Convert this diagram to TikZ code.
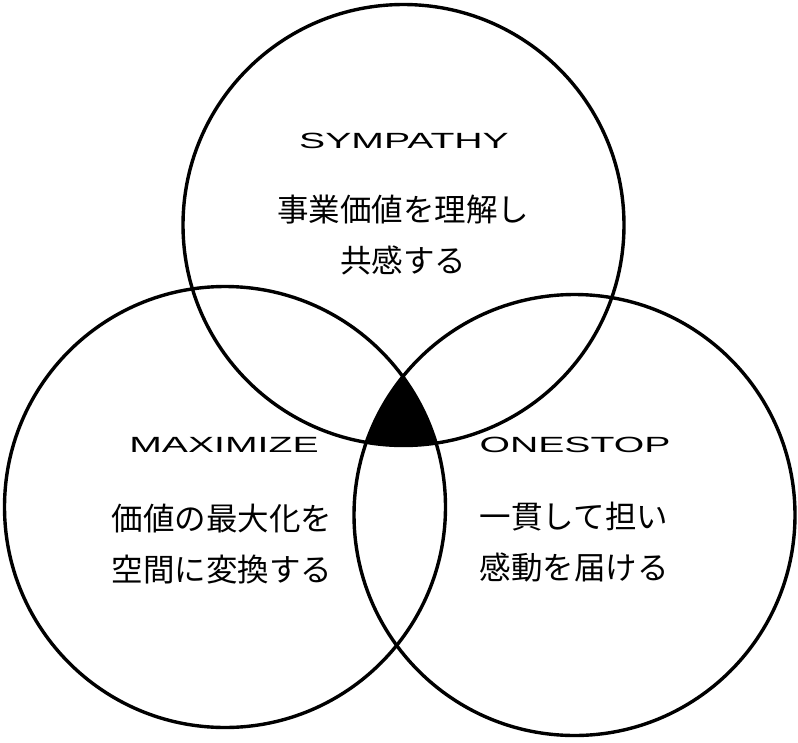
\documentclass[tikz,border=0pt]{standalone}
\usepackage{fontspec}
\newfontfamily\cjk{Noto Sans CJK JP}
\newfontfamily\lat{Liberation Sans}
\tikzset{
  ring/.style={circle, draw=black, line width=3.4pt, inner sep=0pt, minimum size=441pt},
  head/.style={font=\lat\fontsize{22}{22}\selectfont, inner sep=0pt},
  body/.style={font=\cjk\fontsize{31.5}{51}\selectfont, align=center, inner sep=0pt}
}
\newcommand{\widetxt}[1]{\scalebox{1.78}[1]{#1}}
\begin{document}
\begin{tikzpicture}[x=1pt,y=-1pt]
\useasboundingbox (0,0) rectangle (798,742);
\begin{scope}
  \clip (403.5,225) circle (220.5);
  \clip (225,507) circle (220.5);
  \fill[black] (574.5,515) circle (220.5);
\end{scope}
\node[ring] (top) at (403.5,225) {};
\node[ring] (left) at (225,507) {};
\node[ring] (right) at (574.5,515) {};
\node[head] (t1) at (404,141) {\widetxt{SYMPATHY}};
\node[body] (t2) at (403,235) {事業価値を理解し\\共感する};
\node[head] (l1) at (224,445) {\widetxt{MAXIMIZE}};
\node[body] (l2) at (222,544) {価値の最大化を\\空間に変換する};
\node[head] (r1) at (575,445) {\widetxt{ONESTOP}};
\node[body] (r2) at (574,542) {一貫して担い\\感動を届ける};
\end{tikzpicture}
\end{document}
